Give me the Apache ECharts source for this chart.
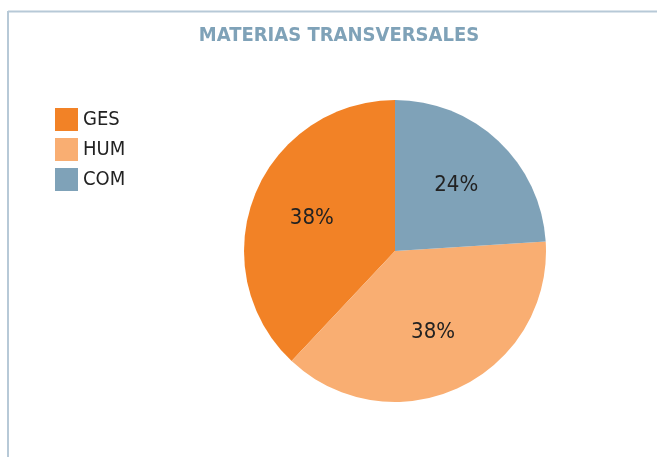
<!DOCTYPE html>
<html>
<head>
<meta charset="utf-8">
<script src="https://cdn.jsdelivr.net/npm/echarts@6/dist/echarts.min.js"></script>
<style>
html,body{margin:0;padding:0;background:#fff;}
#c{width:657px;height:457px;}
</style>
</head>
<body>
<div id="c"></div>
<script>
var title = 'MATERIAS TRANSVERSALES';
var categories = ['GES', 'HUM', 'COM'];
var values = [38, 38, 24];
var colors = ['#f28226', '#f9ae72', '#7fa2b8'];

var chart = echarts.init(document.getElementById('c'), null, {renderer: 'canvas'});
var FONT = '"DejaVu Sans Condensed", "Liberation Sans", Arial, sans-serif';
var pieData = categories.map(function (c, i) {
  return {name: c, value: values[i], itemStyle: {color: colors[i]}};
});
chart.setOption({
  backgroundColor: '#ffffff',
  animation: false,
  title: {
    text: title,
    left: 334, top: 21, textAlign: 'center',
    textStyle: {color: '#7fa2b8', fontSize: 20, fontWeight: 'bold', fontFamily: FONT}
  },
  legend: {
    orient: 'vertical', left: 55, top: 108, padding: 0,
    itemWidth: 23, itemHeight: 23, itemGap: 7,
    icon: 'rect',
    data: categories,
    textStyle: {fontSize: 20, color: '#222', fontFamily: FONT}
  },
  graphic: [
    {type: 'line', shape: {x1: 8, y1: 11.5, x2: 660, y2: 11.5}, style: {stroke: '#b7c9d7', lineWidth: 2}},
    {type: 'line', shape: {x1: 8, y1: 11, x2: 8, y2: 460}, style: {stroke: '#b7c9d7', lineWidth: 2}}
  ],
  series: [{
    type: 'pie',
    center: [395, 251],
    radius: 151,
    startAngle: 90,
    clockwise: false,
    data: pieData,
    label: {show: false},
    labelLine: {show: false},
    itemStyle: {borderWidth: 0},
    emphasis: {disabled: true},
    silent: true
  }, {
    type: 'pie',
    center: [395, 251],
    radius: [22, 151],
    startAngle: 90,
    clockwise: false,
    data: pieData.map(function (d) { return {name: d.name, value: d.value}; }),
    itemStyle: {color: 'rgba(0,0,0,0)', borderWidth: 0},
    label: {
      show: true, position: 'inside',
      formatter: function (p) { return p.value + '%'; },
      fontSize: 22, color: '#222', fontFamily: FONT
    },
    labelLine: {show: false},
    emphasis: {disabled: true},
    silent: true
  }]
});
</script>
</body>
</html>
